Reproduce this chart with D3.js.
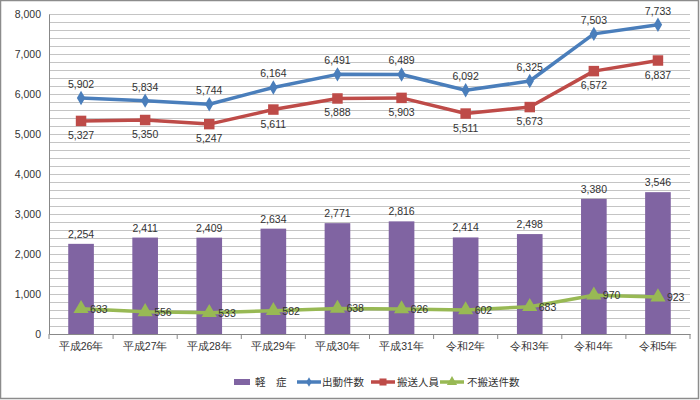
<!DOCTYPE html>
<html><head><meta charset="utf-8">
<script src="https://cdn.jsdelivr.net/npm/d3@7"></script>
<style>body{margin:0;background:#fff;}svg{display:block;font-family:"Noto Sans CJK JP","Noto Sans",sans-serif;}</style>
</head><body>
<svg id="c" width="700" height="400"></svg>
<script>
const categories = ["平成26年","平成27年","平成28年","平成29年","平成30年","平成31年","令和2年","令和3年","令和4年","令和5年"];
const mild = [2254,2411,2409,2634,2771,2816,2414,2498,3380,3546];
const dispatches = [5902,5834,5744,6164,6491,6489,6092,6325,7503,7733];
const transported = [5327,5350,5247,5611,5888,5903,5511,5673,6572,6837];
const notTransported = [633,556,533,582,638,626,602,683,970,923];
const yTicks = [0,1000,2000,3000,4000,5000,6000,7000,8000];
const legendNames = ["軽　症","出動件数","搬送人員","不搬送件数"];

const svg = d3.select("#c");
const L = 49, R = 690, T = 14, B = 334;
const x = d3.scaleBand().domain(categories).range([L, R]).paddingInner(0.6).paddingOuter(0.3);
const y = d3.scaleLinear().domain([0, 8000]).range([B, T]);
const fmt = d3.format(",");
const cx = c => x(c) + x.bandwidth() / 2;

svg.append("rect").attr("x",0.5).attr("y",0.5).attr("width",698).attr("height",398)
  .attr("fill","#fff").attr("stroke","#8c8c8c").attr("stroke-width",1.5);

// grid
svg.append("g").selectAll("line").data(d3.range(200, 8001, 200)).join("line")
  .attr("x1", L).attr("x2", R).attr("y1", d => Math.round(y(d)) + 0.5).attr("y2", d => Math.round(y(d)) + 0.5)
  .attr("stroke", "#c4c4c4").attr("stroke-width", 1);

// y axis
const ya = svg.append("g").attr("transform", `translate(${L},0)`)
  .call(d3.axisLeft(y).tickValues(yTicks).tickFormat(fmt).tickSize(0).tickPadding(8));
ya.select(".domain").attr("stroke", "#888");
ya.selectAll("text").attr("fill", "#333").style("font-size", "10.5px").style("font-family", "Arial,'Liberation Sans',sans-serif");

// bars
svg.append("g").selectAll("rect").data(mild).join("rect")
  .attr("x", (d, i) => x(categories[i])).attr("width", x.bandwidth())
  .attr("y", d => y(d)).attr("height", d => B - y(d)).attr("fill", "#8064a2");
svg.append("g").selectAll("text").data(mild).join("text")
  .attr("x", (d, i) => cx(categories[i])).attr("y", d => y(d) - 6).attr("text-anchor", "middle")
  .attr("fill", "#333").style("font-size", "10.5px").style("font-family", "Arial,'Liberation Sans',sans-serif").text(fmt);

// x axis
const xa = svg.append("g").attr("transform", `translate(0,${B})`)
  .call(d3.axisBottom(x).tickSize(0).tickPadding(9));
xa.select(".domain").attr("stroke", "#888");
xa.selectAll("text").attr("fill", "#333").style("font-size", "10.5px");
const bounds = d3.range(0, categories.length + 1).map(i => L + i * (R - L) / categories.length);
svg.append("g").selectAll("line").data(bounds).join("line")
  .attr("x1", d => d).attr("x2", d => d).attr("y1", B).attr("y2", B + 5).attr("stroke", "#888");

const line = d3.line().x((d, i) => cx(categories[i])).y(d => y(d));
const series = [
  {data: dispatches, color: "#4a7ebb", marker: "diamond", size: 60},
  {data: transported, color: "#be4b48", marker: "square", size: 110},
  {data: notTransported, color: "#98b954", marker: "triangle", size: 100}
];
const sym = {diamond: d3.symbolDiamond, square: d3.symbolSquare, triangle: d3.symbolTriangle};
series.forEach(s => {
  svg.append("path").datum(s.data).attr("d", line).attr("fill", "none")
    .attr("stroke", s.color).attr("stroke-width", 3.5).attr("stroke-linejoin", "round");
  svg.append("g").selectAll("path").data(s.data).join("path")
    .attr("transform", (d, i) => `translate(${cx(categories[i])},${y(d)})`)
    .attr("d", d3.symbol().type(sym[s.marker]).size(s.size)).attr("fill", s.color);
});

const lblStyle = sel => sel.attr("fill", "#333").style("font-size", "10.5px").style("font-family", "Arial,'Liberation Sans',sans-serif");
svg.append("g").selectAll("text").data(dispatches).join("text")
  .attr("x", (d, i) => cx(categories[i])).attr("y", d => y(d) - 10).attr("text-anchor", "middle").text(fmt).call(lblStyle);
svg.append("g").selectAll("text").data(transported).join("text")
  .attr("x", (d, i) => cx(categories[i])).attr("y", d => y(d) + 18).attr("text-anchor", "middle").text(fmt).call(lblStyle);
svg.append("g").selectAll("text").data(notTransported).join("text")
  .attr("x", (d, i) => cx(categories[i]) + 9).attr("y", d => y(d) + 4).attr("text-anchor", "start").text(fmt).call(lblStyle);

// legend
const lg = svg.append("g").attr("transform", "translate(0,382)");
const lx = [234, 297, 371, 440];
lg.append("rect").attr("x", lx[0]).attr("y", -3).attr("width", 16).attr("height", 6).attr("fill", "#8064a2");
series.forEach((s, i) => {
  const x0 = lx[i + 1];
  lg.append("line").attr("x1", x0).attr("x2", x0 + 24).attr("y1", 0).attr("y2", 0).attr("stroke", s.color).attr("stroke-width", 3.5);
  lg.append("path").attr("transform", `translate(${x0 + 12},0)`).attr("d", d3.symbol().type(sym[s.marker]).size(s.size * 0.45)).attr("fill", s.color);
});
const tx = [255, 322, 397, 467];
lg.selectAll("text").data(legendNames).join("text").attr("x", (d, i) => tx[i]).attr("y", 4)
  .attr("fill", "#333").style("font-size", "10.5px").text(d => d);
</script>
</body></html>
